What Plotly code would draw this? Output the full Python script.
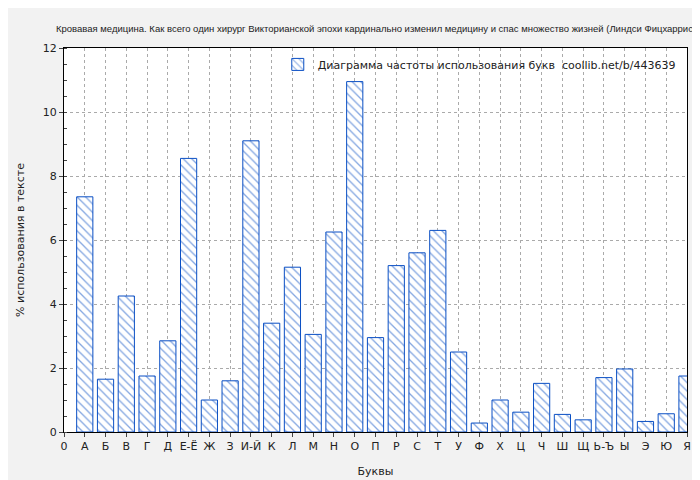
import plotly.graph_objects as go

letters = ["0","А","Б","В","Г","Д","Е-Ё","Ж","З","И-Й","К","Л","М","Н","О","П","Р","С","Т","У","Ф","Х","Ц","Ч","Ш","Щ","Ь-Ъ","Ы","Э","Ю","Я"]
values = [7.35,1.65,4.25,1.75,2.85,8.55,1.0,1.6,9.1,3.4,5.15,3.05,6.25,10.95,2.95,5.2,5.6,6.3,2.5,0.28,1.0,0.62,1.52,0.55,0.38,1.7,1.97,0.33,0.57,1.75]
title = "Кровавая медицина. Как всего один хирург Викторианской эпохи кардинально изменил медицину и спас множество жизней (Линдси Фицхаррис)"

xs = list(range(1, len(values)+1))
fig = go.Figure(go.Bar(
    x=xs, y=values, width=0.78,
    name="Диаграмма частоты использования букв  coollib.net/b/443639",
    marker=dict(color="white", line=dict(color="#0a4fc4", width=1),
                pattern=dict(shape="\\", fgcolor="#0a4fc4", bgcolor="white", size=6, solidity=0.22)),
))
fnt = dict(family="DejaVu Sans", size=11, color="#222")
fig.update_layout(
    width=700, height=480, paper_bgcolor="#f2f2f2", plot_bgcolor="white",
    margin=dict(l=54, r=21, t=40, b=46), font=fnt, showlegend=True, bargap=0.2,
    legend=dict(x=0.99, y=0.995, xanchor="right", yanchor="top", bgcolor="rgba(0,0,0,0)", font=fnt),
    annotations=[dict(text=title, x=0.5, y=1.0, xref="paper", yref="paper", xanchor="center", yanchor="bottom",
                      yshift=12, showarrow=False, font=dict(family="Liberation Sans", size=9.5, color="#222"))],
)
fig.update_xaxes(range=[0, 30], tickvals=list(range(len(letters))), ticktext=letters,
                 showgrid=True, gridcolor="#aaa", griddash="dot", showline=True, linecolor="black", mirror=True,
                 ticks="outside", ticklen=4, title=dict(text="Буквы", font=fnt))
fig.update_yaxes(range=[0, 12], dtick=2, showgrid=True, gridcolor="#aaa", griddash="dot",
                 showline=True, linecolor="black", mirror=True, ticks="outside", ticklen=4,
                 minor=dict(dtick=0.5, ticks="inside", ticklen=3, showgrid=False),
                 title=dict(text="% использования в тексте", font=fnt), zeroline=False)
fig.write_html("out.html")
